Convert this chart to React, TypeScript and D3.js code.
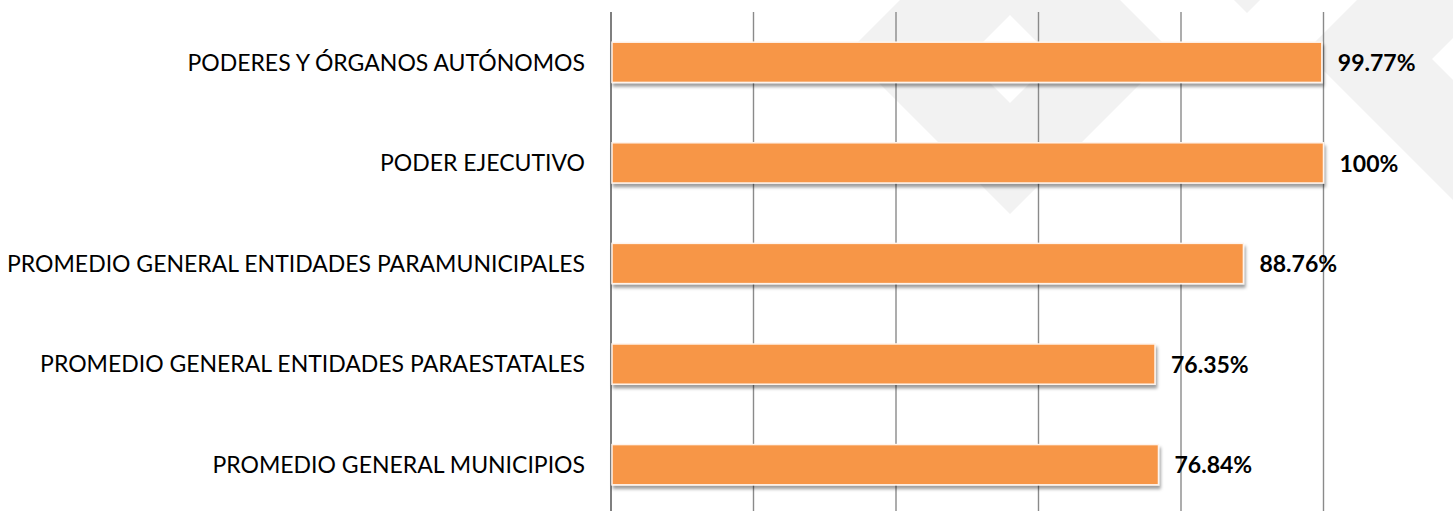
import React, { useEffect, useRef } from "react";
import { scaleBand, scaleLinear, select } from "d3";

const categories = [
  "PODERES Y ÓRGANOS AUTÓNOMOS",
  "PODER EJECUTIVO",
  "PROMEDIO GENERAL ENTIDADES PARAMUNICIPALES",
  "PROMEDIO GENERAL ENTIDADES PARAESTATALES",
  "PROMEDIO GENERAL MUNICIPIOS",
];
const values = [99.77, 100, 88.76, 76.35, 76.84];
const valueLabels = ["99.77%", "100%", "88.76%", "76.35%", "76.84%"];
const gridTicks = [0, 20, 40, 60, 80, 100];

const W = 1453;
const H = 511;

// faint logo watermark behind the plot
const diamond = (cx: number, cy: number, h: number) =>
  `M${cx},${cy - h}L${cx + h},${cy}L${cx},${cy + h}L${cx - h},${cy}Z`;
const watermark = [
  diamond(1010, 52, 162) + diamond(1010, 59, 44),
  diamond(1470, 52, 165) + diamond(1476, 59, 44),
  diamond(1247, -150, 163),
];

const App = () => {
  const svgRef = useRef<SVGSVGElement>(null);

  useEffect(() => {
    const svg = select(svgRef.current);
    svg.selectAll("*").remove();

    const x = scaleLinear().domain([0, 100]).range([611, 1323.5]);
    const y = scaleBand<string>()
      .domain(categories)
      .range([12, 515])
      .paddingInner(0.6)
      .paddingOuter(0.3);

    const defs = svg.append("defs");
    defs
      .append("filter")
      .attr("id", "shadow")
      .attr("x", "-5%")
      .attr("y", "-30%")
      .attr("width", "110%")
      .attr("height", "170%")
      .append("feDropShadow")
      .attr("dx", 1.5)
      .attr("dy", 3.5)
      .attr("stdDeviation", 1.8)
      .attr("flood-color", "#000")
      .attr("flood-opacity", 0.38);

    // watermark
    svg
      .append("g")
      .selectAll("path")
      .data(watermark)
      .join("path")
      .attr("d", (d) => d)
      .attr("fill", "#f2f2f2")
      .attr("fill-rule", "evenodd");

    // vertical gridlines
    svg
      .append("g")
      .selectAll("line")
      .data(gridTicks)
      .join("line")
      .attr("x1", (d) => x(d))
      .attr("x2", (d) => x(d))
      .attr("y1", 12)
      .attr("y2", H)
      .attr("stroke", (d) => (d === 0 ? "#7f7f7f" : "#8a8a8a"))
      .attr("stroke-width", (d) => (d === 0 ? 2 : 1.4));

    // bars
    svg
      .append("g")
      .selectAll("rect")
      .data(values)
      .join("rect")
      .attr("x", x(0) + 1)
      .attr("y", (d, i) => y(categories[i]) as number)
      .attr("width", (d) => x(d) - x(0) - 1)
      .attr("height", y.bandwidth())
      .attr("fill", "#F79646")
      .attr("stroke", "#fff4ec")
      .attr("stroke-width", 1.5)
      .attr("filter", "url(#shadow)");

    // category labels
    svg
      .append("g")
      .selectAll("text")
      .data(categories)
      .join("text")
      .attr("x", 585)
      .attr("y", (d) => (y(d) as number) + y.bandwidth() / 2)
      .attr("dy", "0.36em")
      .attr("text-anchor", "end")
      .attr("font-family", "Lato, 'Open Sans', sans-serif")
      .attr("font-size", 23)
      .attr("fill", "#000")
      .text((d) => d);

    // value labels
    svg
      .append("g")
      .selectAll("text")
      .data(values)
      .join("text")
      .attr("x", (d) => x(d) + 16)
      .attr("y", (d, i) => (y(categories[i]) as number) + y.bandwidth() / 2)
      .attr("dy", "0.38em")
      .attr("font-family", "Lato, 'Open Sans', sans-serif")
      .attr("font-weight", "bold")
      .attr("font-size", 23)
      .attr("fill", "#000")
      .text((d, i) => valueLabels[i]);
  }, []);

  return (
    <svg
      ref={svgRef}
      width={W}
      height={H}
      style={{ position: "absolute", left: 0, top: 0, display: "block", background: "#fff" }}
    />
  );
};

export default App;
